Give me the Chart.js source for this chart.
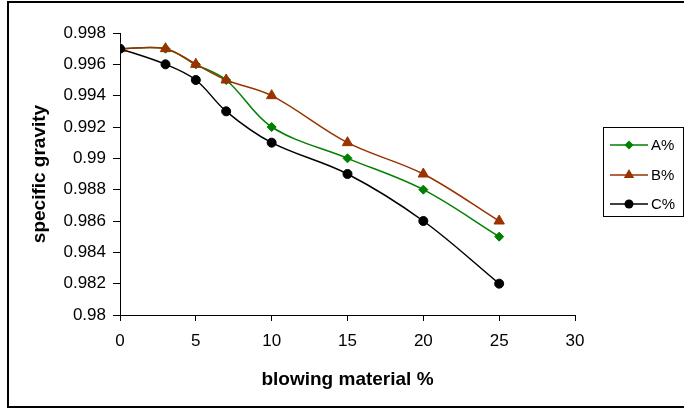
<!DOCTYPE html>
<html>
<head>
<meta charset="utf-8">
<script src="https://cdn.jsdelivr.net/npm/chart.js@4/dist/chart.umd.min.js"></script>
<style>
html,body{margin:0;padding:0;background:#fff;}
#wrap{width:684px;height:410px;position:relative;}
</style>
</head>
<body>
<div id="wrap"><canvas id="c" width="684" height="410"></canvas></div>
<script>
const xValues = [0, 3, 5, 7, 10, 15, 20, 25];
const seriesA = [0.997, 0.997, 0.996, 0.995, 0.992, 0.990, 0.988, 0.985];
const seriesB = [0.997, 0.997, 0.996, 0.995, 0.994, 0.991, 0.989, 0.986];
const seriesC = [0.997, 0.996, 0.995, 0.993, 0.991, 0.989, 0.986, 0.982];
const seriesNames = ['A%', 'B%', 'C%'];
const xTicks = [0, 5, 10, 15, 20, 25, 30];
const yTicks = [0.98, 0.982, 0.984, 0.986, 0.988, 0.99, 0.992, 0.994, 0.996, 0.998];

const colors = ['#008000', '#993300', '#000000'];
const styles = ['rectRot', 'triangle', 'circle'];
const radii = [4.5, 6, 4.5];

function pts(ys) { return xValues.map((x, i) => ({x: x, y: ys[i]})); }

const datasets = [seriesA, seriesB, seriesC].map((s, i) => ({
  label: seriesNames[i],
  data: pts(s),
  borderColor: colors[i],
  backgroundColor: colors[i],
  pointBackgroundColor: colors[i],
  pointBorderColor: colors[i],
  pointStyle: styles[i],
  pointRadius: radii[i],
  pointBorderWidth: 1,
  borderWidth: 1.5,
  tension: 0.35,
  fill: false,
  order: 3 - i
}));

const FONT = "'Liberation Sans', Arial, sans-serif";

function drawMarker(ctx, style, x, y, r, color) {
  ctx.save();
  ctx.fillStyle = color;
  ctx.beginPath();
  if (style === 'circle') {
    ctx.arc(x, y, r, 0, Math.PI * 2);
  } else if (style === 'triangle') {
    const side = 3 * r / Math.sqrt(3);
    const h = side * Math.sqrt(3) / 2;
    ctx.moveTo(x - side / 2, y + h / 3);
    ctx.lineTo(x + side / 2, y + h / 3);
    ctx.lineTo(x, y - 2 * h / 3);
    ctx.closePath();
  } else {
    ctx.moveTo(x - r, y);
    ctx.lineTo(x, y - r);
    ctx.lineTo(x + r, y);
    ctx.lineTo(x, y + r);
    ctx.closePath();
  }
  ctx.fill();
  ctx.restore();
}

const framePlugin = {
  id: 'frame',
  beforeDraw(chart) {
    const ctx = chart.ctx;
    ctx.save();
    ctx.fillStyle = '#fff';
    ctx.fillRect(0, 0, chart.width, chart.height);
    ctx.strokeStyle = '#000';
    ctx.lineWidth = 2;
    ctx.strokeRect(8, 2, 700, 405);
    ctx.restore();
  },
  afterDraw(chart) {
    const ctx = chart.ctx;
    ctx.save();
    ctx.strokeStyle = '#000';
    ctx.lineWidth = 1;
    ctx.strokeRect(603.5, 127.5, 80, 89);
    const rows = [145, 175, 204];
    ctx.font = '15px ' + FONT;
    ctx.textBaseline = 'middle';
    seriesNames.forEach((n, i) => {
      ctx.strokeStyle = colors[i];
      ctx.lineWidth = 1.5;
      ctx.beginPath();
      ctx.moveTo(610, rows[i]);
      ctx.lineTo(648, rows[i]);
      ctx.stroke();
      drawMarker(ctx, styles[i], 629, rows[i], radii[i], colors[i]);
      ctx.fillStyle = '#000';
      ctx.fillText(n, 651, rows[i] + 1);
    });
    ctx.restore();
  }
};

new Chart(document.getElementById('c'), {
  type: 'line',
  data: { datasets: datasets },
  plugins: [framePlugin],
  options: {
    responsive: false,
    animation: false,
    devicePixelRatio: 1,
    layout: { padding: { left: 0, top: 33, right: 109, bottom: 0 } },
    plugins: { legend: { display: false }, tooltip: { enabled: false } },
    scales: {
      x: {
        type: 'linear',
        min: 0, max: 30,
        afterBuildTicks(axis) { axis.ticks = xTicks.map(v => ({value: v})); },
        afterFit(axis) { axis.height = 95; },
        border: { display: true, color: '#000', width: 1 },
        grid: { display: true, drawOnChartArea: false, drawTicks: true, tickLength: 6, color: '#000' },
        ticks: { color: '#000', font: { family: FONT, size: 17 }, padding: 10, maxRotation: 0, autoSkip: false },
        title: { display: true, text: 'blowing material %', color: '#000',
                 font: { family: FONT, size: 19, weight: 'bold' }, padding: { top: 0, bottom: 19 } }
      },
      y: {
        type: 'linear',
        min: 0.98, max: 0.998,
        afterBuildTicks(axis) { axis.ticks = yTicks.map(v => ({value: v})); },
        afterFit(axis) { axis.width = 120; },
        border: { display: true, color: '#000', width: 1 },
        grid: { display: true, drawOnChartArea: false, drawTicks: true, tickLength: 7, color: '#000' },
        ticks: { color: '#000', font: { family: FONT, size: 17 }, padding: 7, autoSkip: false,
                 callback: v => String(parseFloat(v.toFixed(3))) },
        title: { display: true, text: 'specific gravity', color: '#000',
                 font: { family: FONT, size: 19, weight: 'bold' }, padding: { top: 28, bottom: 0 } }
      }
    }
  }
});
</script>
</body>
</html>
